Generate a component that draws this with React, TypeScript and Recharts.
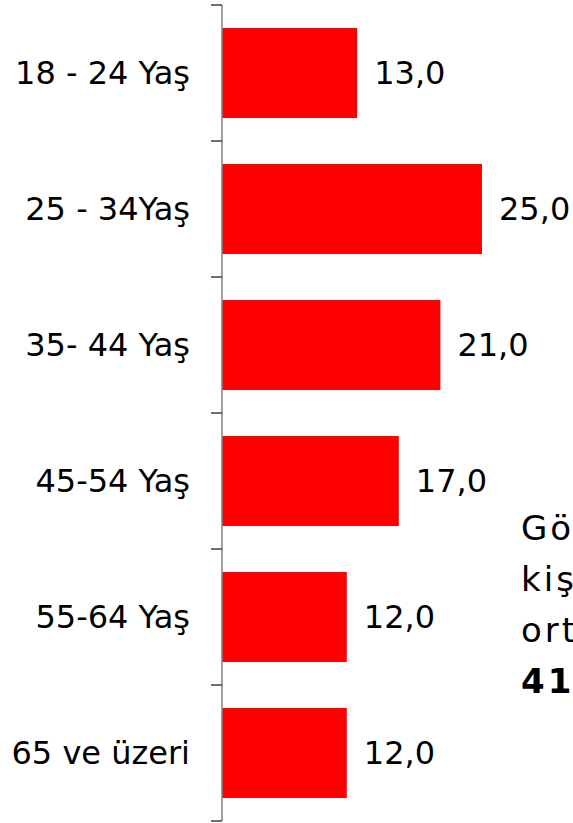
import { BarChart, Bar, XAxis, YAxis, LabelList } from "recharts";

const AGE_GROUPS = [
  "18 - 24 Yaş",
  "25 - 34Yaş",
  "35- 44 Yaş",
  "45-54 Yaş",
  "55-64 Yaş",
  "65 ve üzeri",
];
const SHARES = [13, 25, 21, 17, 12, 12];
const NOTE_LINES = ["Gö", "kiş", "ort"];
const NOTE_VALUE = "41";

const data = AGE_GROUPS.map((name, i) => ({ name, value: SHARES[i] }));

const FONT = "'DejaVu Sans', Verdana, sans-serif";
const TICK_SIZE = 6;
const TICK_MARGIN = 26;

// category label plus a tick mark on the band boundaries
function AgeTick(props: any) {
  const { x, y, payload, index, visibleTicksCount } = props;
  const half = payload?.offset ?? 68;
  const axisX = x + TICK_SIZE + TICK_MARGIN;
  const last = index === (visibleTicksCount ?? AGE_GROUPS.length) - 1;
  return (
    <g>
      <line x1={axisX - 11} x2={axisX} y1={y - half} y2={y - half} stroke="#404040" strokeWidth={1.5} />
      {last && (
        <line x1={axisX - 11} x2={axisX} y1={y + half} y2={y + half} stroke="#404040" strokeWidth={1.5} />
      )}
      <text x={x} y={y} dy="0.355em" textAnchor="end" fontSize={32} fontFamily={FONT} fill="#000">
        {payload.value}
      </text>
    </g>
  );
}

export default function App() {
  return (
    <div style={{ position: "absolute", left: 0, top: 0, width: 573, height: 823, overflow: "hidden", background: "#fff" }}>
      <BarChart
        width={573}
        height={823}
        data={data}
        layout="vertical"
        barCategoryGap="17%"
        margin={{ top: 5, right: 0, bottom: 2, left: 0 }}
      >
        <XAxis type="number" domain={[0, 33.75]} hide />
        <YAxis
          type="category"
          dataKey="name"
          width={222}
          tickLine={false}
          tickSize={TICK_SIZE}
          tickMargin={TICK_MARGIN}
          axisLine={{ stroke: "#808080", strokeWidth: 1.5 }}
          tick={<AgeTick />}
          interval={0}
        />
        <Bar dataKey="value" fill="#ff0000" isAnimationActive={false}>
          <LabelList
            dataKey="value"
            position="right"
            offset={17}
            formatter={(v: any) => Number(v).toFixed(1).replace(".", ",")}
            style={{ fontSize: 32, fontFamily: FONT, fill: "#000" }}
          />
        </Bar>
      </BarChart>
      <div
        style={{
          position: "absolute",
          left: 521,
          top: 503,
          fontFamily: FONT,
          fontSize: 34,
          letterSpacing: 3,
          lineHeight: "51px",
          color: "#000",
          whiteSpace: "nowrap",
        }}
      >
        {NOTE_LINES.map((l) => (
          <div key={l}>{l}</div>
        ))}
        <div style={{ fontWeight: "bold" }}>{NOTE_VALUE}</div>
      </div>
    </div>
  );
}
